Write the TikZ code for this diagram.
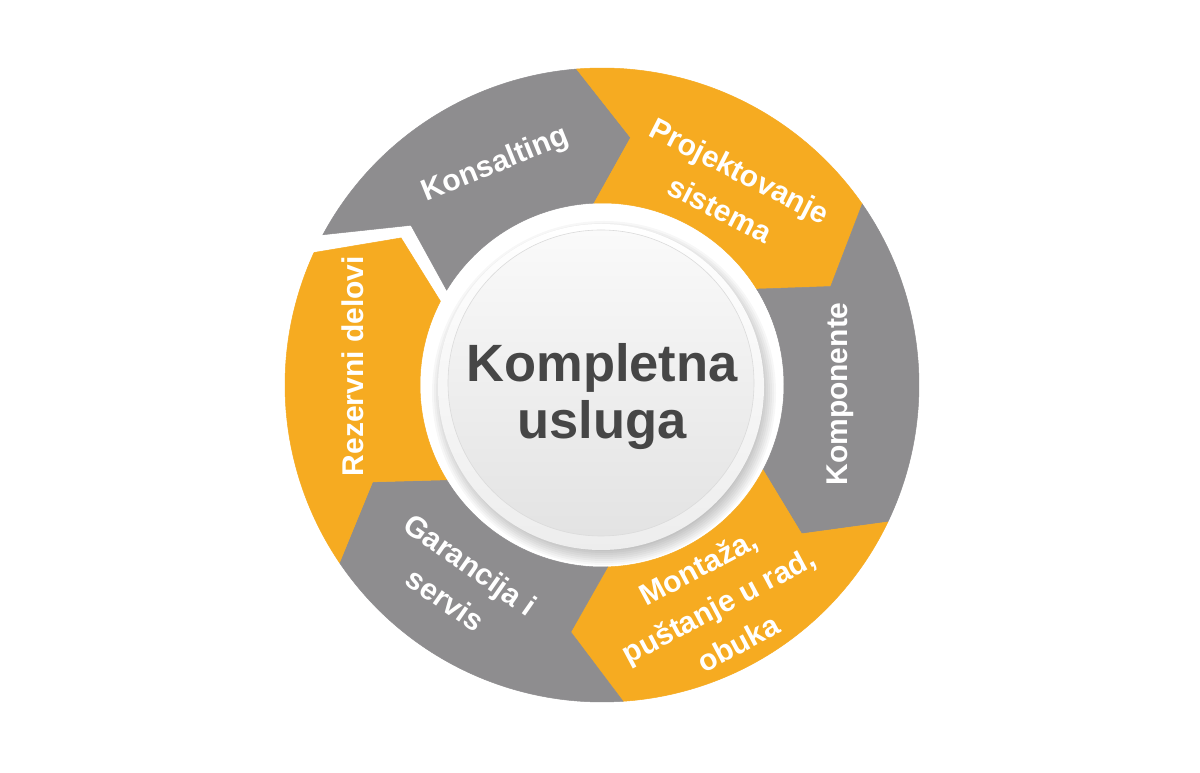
\documentclass[tikz,border=0pt]{standalone}
\usepackage{fontspec}
\setmainfont{Liberation Sans}
\begin{document}
\begin{tikzpicture}[x=1pt,y=1pt]
\definecolor{segGray}{RGB}{142,141,143}
\definecolor{segOrange}{RGB}{246,171,33}
\definecolor{txtDark}{RGB}{70,70,70}
\tikzset{
  seggray/.style={fill=segGray, draw=segGray, line width=0.5pt, line join=miter},
  segorange/.style={fill=segOrange, draw=segOrange, line width=0.5pt, line join=miter},
  lbl/.style={text=white, font=\bfseries\fontsize{30}{43}\selectfont, align=center, inner sep=0pt},
  centerlbl/.style={text=txtDark, font=\bfseries\fontsize{52.5}{57}\selectfont, align=center, inner sep=0pt},
}
\useasboundingbox (0,0) rectangle (1200,773);
\fill[white] (0,0) rectangle (1200,773);
\begin{scope}[shift={(602,388)}]
  % Konsalting (gray)
  \fill[seggray] (151.7:317pt) arc[start angle=151.7, end angle=94.6, radius=317pt]
     -- (83.4:249pt) -- (92.5:182pt) arc[start angle=92.5, end angle=148.6, radius=182pt]
     -- (140.1:249pt) -- cycle;
  % Projektovanje (orange)
  \fill[segorange] (94.6:317pt) arc[start angle=94.6, end angle=34.8, radius=317pt]
     -- (23.3:249pt) -- (31.8:182pt) arc[start angle=31.8, end angle=92.5, radius=182pt]
     -- (83.4:249pt) -- cycle;
  % Komponente (gray)
  \fill[seggray] (34.8:317pt) arc[start angle=34.8, end angle=-25.6, radius=317pt]
     -- (-36.7:249pt) -- (-27.8:182pt) arc[start angle=-27.8, end angle=31.8, radius=182pt]
     -- (23.3:249pt) -- cycle;
  % Montaza (orange)
  \fill[segorange] (-25.6:317pt) arc[start angle=-25.6, end angle=-86.2, radius=317pt]
     -- (-97.2:249pt) -- (-88.2:182pt) arc[start angle=-88.2, end angle=-27.8, radius=182pt]
     -- (-36.7:249pt) -- cycle;
  % Garancija (gray)
  \fill[seggray] (-86.2:317pt) arc[start angle=-86.2, end angle=-145.9, radius=317pt]
     -- (-157.1:249pt) -- (-148.6:182pt) arc[start angle=-148.6, end angle=-88.2, radius=182pt]
     -- (-97.2:249pt) -- cycle;
  % Rezervni (orange)
  \fill[segorange] (-145.9:317pt) arc[start angle=-145.9, end angle=-204.7, radius=317pt]
     -- (143.8:249pt) -- (152.6:182pt) arc[start angle=152.6, end angle=211.4, radius=182pt]
     -- (-157.1:249pt) -- cycle;

  % white hole
  \fill[white] (2,1) circle[radius=179pt];
  % soft shadow under the button
  \foreach \r in {172,170,...,158} \fill[black, opacity=0.03] (2,-8) circle[radius=\r pt];
  % rim
  \shade[top color=white, bottom color=white!93!black] (-1,-2) circle[radius=163pt];
  % face
  \shade[top color=white!98!black, bottom color=white!89!black, draw=white!86!black, line width=0.6pt] (-1,2) circle[radius=153pt];

  % labels
  \node[lbl, rotate=22] (konsalting) at (-106.5,220) {Konsalting};
  \node[lbl, rotate=-27] (projektovanje) at (128,195) {Projektovanje\\sistema};
  \node[lbl, rotate=90] (komponente) at (238,-9) {Komponente};
  \node[lbl, rotate=28] (montaza) at (116,-220) {Montaža,\\puštanje u rad,\\obuka};
  \node[lbl, rotate=-35] (garancija) at (-144,-197) {Garancija i\\servis};
  \node[lbl, rotate=90] (rezervni) at (-249,19) {Rezervni delovi};
  \node[centerlbl] (center) at (0,-12) {Kompletna\\usluga};
\end{scope}
\end{tikzpicture}
\end{document}
